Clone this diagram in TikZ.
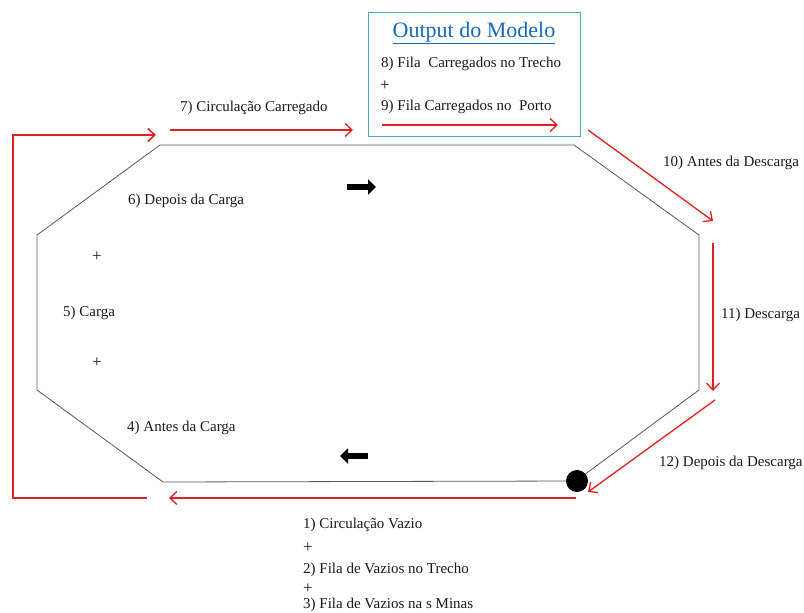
\documentclass[tikz,border=0pt]{standalone}
\usepackage{fontspec}
\setmainfont{Liberation Serif}
\usetikzlibrary{arrows.meta}
\definecolor{redline}{RGB}{222,32,32}
\definecolor{boxblue}{RGB}{80,165,195}
\definecolor{titleblue}{RGB}{25,105,185}
\begin{document}
\begin{tikzpicture}[x=1pt,y=-1pt,
  lbl/.style={font=\fontsize{15}{18}\selectfont, inner sep=0pt, text=black!90},
  plus/.style={font=\fontsize{17}{18}\selectfont, inner sep=0pt, text=black!90, text height=9pt, text depth=-1pt},
  track/.style={draw=black!65, line width=0.8pt},
  flow/.style={draw=redline, line width=1.3pt, -{Straight Barb[length=7pt,width=13pt,line width=1.3pt]}},
  backflow/.style={draw=redline, line width=2.6pt, -{Straight Barb[length=7pt,width=13pt,line width=1.6pt]}},
  dirarrow/.style={draw=black, line width=6.5pt, -{Triangle[length=8pt,width=15pt]}}
]
\useasboundingbox (0,0) rectangle (804,613);

% octagon track
\coordinate (tl) at (160,145);
\coordinate (tr) at (574,145);
\coordinate (rt) at (699,235);
\coordinate (rb) at (699,390);
\coordinate (br) at (580,478);
\coordinate (bl) at (163,482);
\coordinate (lb) at (37,390);
\coordinate (lt) at (37,235);
\draw[track] (tl) -- (tr) -- (rt) -- (rb) -- (br);
\draw[track] (bl) -- (lb) -- (lt) -- (tl);
\node[circle, fill=black, minimum size=22pt, inner sep=0pt] (dot) at (577,481) {};
\draw[track] (dot) -- (bl);

% output box
\node[draw=boxblue, line width=1pt, minimum width=212pt, minimum height=124pt, inner sep=0pt] (box) at (474,74) {};
\node[font=\fontsize{22}{26}\selectfont, text=titleblue, inner sep=0pt] (title) at (474,33) {\underline{Output do Modelo}};
\node[lbl, anchor=west] (o8) at (381,64) {8) Fila\ \ Carregados no Trecho};
\node[plus, anchor=west] (oplus) at (380,86) {+};
\node[lbl, anchor=west] (o9) at (381,107) {9) Fila Carregados no\ \ Porto};
\coordinate (ba1) at (382,125);
\coordinate (ba2) at (558,125);
\draw[flow] (ba1) -- (ba2);

% red flow arrows
\coordinate (a7s) at (170,130);
\coordinate (a7e) at (353,130);
\draw[flow] (a7s) -- (a7e);
\coordinate (a10s) at (588,130);
\coordinate (a10e) at (713,221);
\draw[flow] (a10s) -- (a10e);
\coordinate (a11s) at (713,243);
\coordinate (a11e) at (713,391);
\draw[flow] (a11s) -- (a11e);
\coordinate (a12s) at (715,400);
\coordinate (a12e) at (588,492);
\draw[flow] (a12s) -- (a12e);
\coordinate (a1s) at (576,498);
\coordinate (a1e) at (169,498);
\draw[flow] (a1s) -- (a1e);
\coordinate (rs) at (147,498);
\coordinate (rc1) at (13,498);
\coordinate (rc2) at (13,135);
\coordinate (re) at (156,135);
\draw[backflow] (rs) -- (rc1) -- (rc2) -- (re);

% direction arrows
\coordinate (d1s) at (347,187);
\coordinate (d1e) at (376,187);
\draw[dirarrow] (d1s) -- (d1e);
\coordinate (d2s) at (368,456);
\coordinate (d2e) at (340,456);
\draw[dirarrow] (d2s) -- (d2e);

% labels
\node[lbl, anchor=west] (l7) at (180,108) {7) Circulação Carregado};
\node[lbl, anchor=west] (l6) at (128,201) {6) Depois da Carga};
\node[plus] (p1) at (97,257) {+};
\node[lbl, anchor=west] (l5) at (63,313) {5) Carga};
\node[plus] (p2) at (97,363) {+};
\node[lbl, anchor=west] (l4) at (127,428) {4) Antes da Carga};
\node[lbl, anchor=west] (l10) at (663,163) {10) Antes da Descarga};
\node[lbl, anchor=west] (l11) at (721,315) {11) Descarga};
\node[lbl, anchor=west] (l12) at (659,463) {12) Depois da Descarga};
\node[lbl, anchor=west] (l1) at (303,525) {1) Circulação Vazio};
\node[plus, anchor=west] (q1) at (303,548) {+};
\node[lbl, anchor=west] (l2) at (303,570) {2) Fila de Vazios no Trecho};
\node[plus, anchor=west] (q2) at (303,589) {+};
\node[lbl, anchor=west] (l3) at (303,605) {3) Fila de Vazios na s Minas};
\end{tikzpicture}
\end{document}
